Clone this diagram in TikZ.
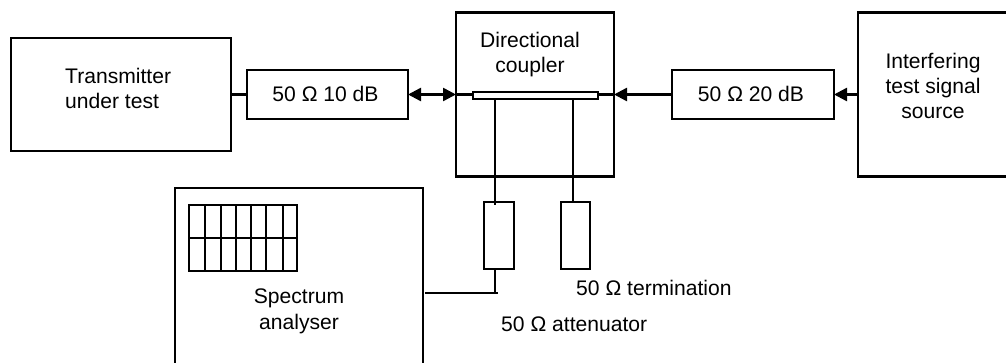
\documentclass[tikz,border=0pt]{standalone}
\usepackage{fontspec}
\setmainfont{Liberation Sans}
\usetikzlibrary{arrows.meta}
\newcommand{\bx}[5]{\node[boxed, minimum width={(#4-#2)*1pt}, minimum height={(#5-#3)*1pt}] (#1) at ({(#2+#4)/2},{-(#3+#5)/2}) {};}
\tikzset{
  boxed/.style={draw=black, line width=2.5pt, inner sep=0pt, outer sep=0pt, fill=white},
  wire/.style={draw=black, line width=2.5pt},
  tip/.style={-{Triangle[length=13pt,width=13pt]}},
  lbl/.style={font=\fontsize{21.1}{25.4}\selectfont, text=black, inner sep=0pt, align=center},
}
\begin{document}
\begin{tikzpicture}[x=1pt,y=1pt]
\useasboundingbox (0,0) rectangle (1006,-363);
\bx{tx}{11}{38}{231}{151}
\bx{attA}{247}{70}{408}{119}
\bx{coup}{456}{12.5}{614}{176.5}
\bx{attB}{672}{70}{834}{119}
\bx{src}{858}{12.5}{1015}{176.5}
\bx{sa}{175}{188}{423}{375}
\bx{att}{484}{202}{514}{269}
\bx{term}{561}{202}{590}{269}
\bx{bar}{473}{92}{598}{99}
% connectors
\draw[wire] (tx) -- (attA);
\draw[wire,{Triangle[length=13pt,width=13pt]}-{Triangle[length=13pt,width=13pt]}] (attA.east) -- (coup.west);
\draw[wire] (coup.west) -- (coup.west -| bar.west);
\draw[wire] (coup.east -| bar.east) -- (coup.east);
\draw[wire,tip] (attB.west) -- (coup.east);
\draw[wire,tip] (src.west |- attB.east) -- (attB.east);
\coordinate (a1) at (495,-99);
\coordinate (a2) at (495,-205);
\coordinate (a3) at (495,-269);
\coordinate (a4) at (495,-293);
\coordinate (a5) at (498,-293);
\coordinate (s1) at (425,-293);
\coordinate (t1) at (573,-99);
\coordinate (t2) at (573,-202);
\draw[wire] (a1) -- (a2);
\draw[wire] (a3) -- (a4);
\draw[wire] (s1) -- (a5);
\draw[wire] (t1) -- (t2);
% display grid
\node[boxed, minimum width=108pt, minimum height=66pt] (grid) at (243,-238) {};
\draw[wire] (grid.west) -- (grid.east);
\foreach \gx in {205,221,236,251,266,283} \draw[wire] (\gx,-205) -- (\gx,-271);
% labels
\node[lbl, anchor=base west, align=left] (ltx) at (65,-109) {Transmitter\\under test};
\node[lbl, anchor=base] (lA) at (325.5,-102) {50 Ω 10 dB};
\node[lbl, anchor=base] (lc) at (530,-73) {Directional\\coupler};
\node[lbl, anchor=base] (lB) at (751,-102) {50 Ω 20 dB};
\node[lbl, anchor=base] (ls) at (933,-119) {Interfering\\test signal\\source};
\node[lbl, anchor=base] (lsa) at (299,-329) {Spectrum\\analyser};
\node[lbl, anchor=base west] (lt) at (576,-295) {50 Ω termination};
\node[lbl, anchor=base west] (la) at (501,-331) {50 Ω attenuator};
\end{tikzpicture}
\end{document}
